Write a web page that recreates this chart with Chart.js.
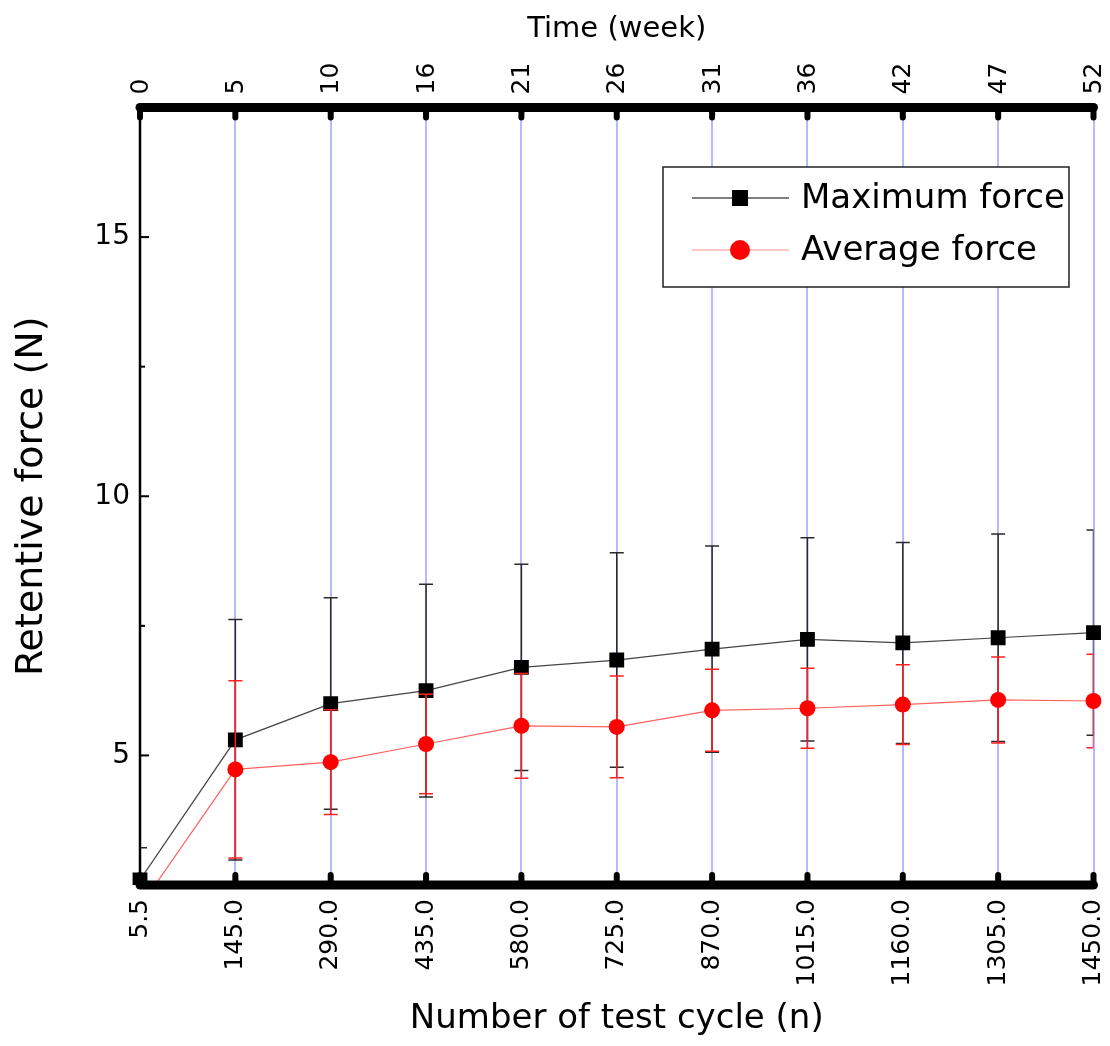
<!DOCTYPE html>
<html>
<head>
<meta charset="utf-8">
<script src="https://cdn.jsdelivr.net/npm/chart.js@4.4.1/dist/chart.umd.min.js"></script>
<style>
  body { margin: 0; background: #fff; }
  #chart { display: block; }
</style>
</head>
<body>
<canvas id="chart" width="1110" height="1046"></canvas>
<script>
const cycleLabels = ['5.5','145.0','290.0','435.0','580.0','725.0','870.0','1015.0','1160.0','1305.0','1450.0'];
const weekLabels = ['0','5','10','16','21','26','31','36','42','47','52'];

const maxForce = [2.6, 5.3, 6.0, 6.25, 6.7, 6.84, 7.05, 7.24, 7.17, 7.27, 7.37];
const maxForceErr = [0.62, 2.32, 2.04, 2.05, 1.99, 2.07, 1.99, 1.96, 1.94, 2.0, 1.98];
const avgForce = [2.08, 4.73, 4.87, 5.22, 5.57, 5.55, 5.87, 5.91, 5.98, 6.07, 6.05];
const avgForceErr = [0, 1.71, 1.01, 0.96, 1.01, 0.98, 0.79, 0.77, 0.77, 0.83, 0.9];

const FONT = '"DejaVu Sans", sans-serif';

// error bars, drawn just before each dataset so markers sit on top
const errorBars = {
  id: 'errorBars',
  beforeDatasetDraw(chart, args) {
    const ds = chart.data.datasets[args.index];
    if (!ds.errors) return;
    const {ctx, chartArea: a} = chart;
    const y = chart.scales.y;
    const meta = args.meta;
    ctx.save();
    ctx.beginPath();
    ctx.rect(a.left, a.top, a.right - a.left, a.bottom - a.top);
    ctx.clip();
    ctx.strokeStyle = ds.errColor;
    ctx.lineWidth = 1.5;
    meta.data.forEach((pt, i) => {
      const e = ds.errors[i];
      if (!e) return;
      const v = ds.data[i];
      const y1 = y.getPixelForValue(v + e);
      const y2 = y.getPixelForValue(v - e);
      ctx.beginPath();
      ctx.moveTo(pt.x, y1); ctx.lineTo(pt.x, y2);
      ctx.moveTo(pt.x - 7, y1); ctx.lineTo(pt.x + 7, y1);
      ctx.moveTo(pt.x - 7, y2); ctx.lineTo(pt.x + 7, y2);
      ctx.stroke();
    });
    ctx.restore();
  }
};

// heavy frame axes with rounded tick stubs, y ticks, top week labels, inset legend
const frame = {
  id: 'frame',
  afterDatasetsDraw(chart) {
    const {ctx, chartArea: a} = chart;
    const x = chart.scales.x, y = chart.scales.y;
    ctx.save();
    ctx.strokeStyle = '#000';
    ctx.lineWidth = 2.5;
    ctx.beginPath();
    ctx.moveTo(a.left, a.top); ctx.lineTo(a.left, a.bottom);
    ctx.stroke();
    ctx.lineWidth = 2;
    [5, 10, 15].forEach(v => {
      const py = y.getPixelForValue(v);
      ctx.beginPath(); ctx.moveTo(a.left, py); ctx.lineTo(a.left + 9, py); ctx.stroke();
    });
    [7.5, 12.5].forEach(v => {
      const py = y.getPixelForValue(v);
      ctx.beginPath(); ctx.moveTo(a.left, py); ctx.lineTo(a.left + 5, py); ctx.stroke();
    });
    ctx.lineCap = 'round';
    ctx.lineWidth = 9;
    [a.top, a.bottom].forEach(py => {
      ctx.beginPath(); ctx.moveTo(a.left, py); ctx.lineTo(a.right, py); ctx.stroke();
    });
    ctx.lineWidth = 6;
    cycleLabels.forEach((_, i) => {
      const px = x.getPixelForValue(i);
      ctx.beginPath(); ctx.moveTo(px, a.top); ctx.lineTo(px, a.top + 10); ctx.stroke();
      ctx.beginPath(); ctx.moveTo(px, a.bottom); ctx.lineTo(px, a.bottom - 10); ctx.stroke();
    });
    // week labels on the top axis, same positions as the cycle categories
    ctx.fillStyle = '#000';
    ctx.font = '25px ' + FONT;
    ctx.textAlign = 'left';
    ctx.textBaseline = 'middle';
    weekLabels.forEach((t, i) => {
      const px = x.getPixelForValue(i);
      ctx.save();
      ctx.translate(px + 1, a.top - 13);
      ctx.rotate(-Math.PI / 2);
      ctx.fillText(t, 0, 0);
      ctx.restore();
    });
    ctx.restore();

    // legend
    const lx = 663, ly = 167, lw = 406, lh = 120;
    ctx.save();
    ctx.fillStyle = '#fff';
    ctx.fillRect(lx, ly, lw, lh);
    ctx.strokeStyle = '#222';
    ctx.lineWidth = 1.5;
    ctx.strokeRect(lx, ly, lw, lh);
    ctx.font = '34px ' + FONT;
    ctx.textBaseline = 'middle';
    chart.data.datasets.slice().sort((p, q) => q.order - p.order).forEach((ds, k) => {
      const ry = ly + 31 + k * 52;
      ctx.strokeStyle = ds.legendLine;
      ctx.lineWidth = 1.5;
      ctx.beginPath(); ctx.moveTo(lx + 29, ry); ctx.lineTo(lx + 126, ry); ctx.stroke();
      ctx.fillStyle = ds.pointBackgroundColor;
      if (ds.pointStyle === 'rect') {
        ctx.fillRect(lx + 69, ry - 8, 16, 16);
      } else {
        ctx.beginPath(); ctx.arc(lx + 77, ry, 10, 0, Math.PI * 2); ctx.fill();
      }
      ctx.fillStyle = '#000';
      ctx.fillText(ds.label, lx + 138, ry + 1);
    });
    ctx.restore();
  }
};

const fixPad = s => { s.paddingLeft = 0; s.paddingRight = 16.5; };

new Chart(document.getElementById('chart'), {
  type: 'line',
  data: {
    labels: cycleLabels,
    datasets: [
      {
        label: 'Maximum force',
        data: maxForce,
        errors: maxForceErr,
        errColor: '#2a2a2a',
        legendLine: '#555',
        borderColor: '#444',
        borderWidth: 1.2,
        pointStyle: 'rect',
        pointRadius: 10.5,
        pointBackgroundColor: '#000',
        pointBorderWidth: 0,
        order: 2
      },
      {
        label: 'Average force',
        data: avgForce,
        errors: avgForceErr,
        errColor: '#ff2020',
        legendLine: '#ffb0b0',
        borderColor: '#ff6060',
        borderWidth: 1.2,
        pointStyle: 'circle',
        pointRadius: 8,
        pointBackgroundColor: '#ff0000',
        pointBorderWidth: 0,
        order: 1
      }
    ]
  },
  options: {
    responsive: false,
    animation: false,
    devicePixelRatio: 1,
    layout: { padding: 0 },
    plugins: { legend: { display: false }, tooltip: { enabled: false } },
    scales: {
      x: {
        type: 'category',
        position: 'bottom',
        grid: { color: '#b8b8ff', lineWidth: 2, drawTicks: false },
        border: { display: false },
        ticks: { minRotation: 90, maxRotation: 90, autoSkip: false, padding: 14, color: '#000', font: { family: FONT, size: 25 } },
        title: { display: true, text: 'Number of test cycle (n)', color: '#000', font: { family: FONT, size: 34 }, padding: { top: 0, bottom: 6 } },
        afterFit: s => { s.height = 161; fixPad(s); }
      },
      x2: {
        type: 'category',
        position: 'top',
        labels: weekLabels,
        grid: { display: false, drawTicks: false },
        border: { display: false },
        ticks: { display: false },
        title: { display: true, text: 'Time (week)', color: '#000', font: { family: FONT, size: 29 }, padding: { top: 12, bottom: 0 } },
        afterFit: s => { s.height = 107.5; fixPad(s); }
      },
      y: {
        type: 'linear',
        min: 2.5,
        max: 17.5,
        afterBuildTicks: s => { s.ticks = [5, 10, 15].map(v => ({ value: v })); },
        grid: { display: false, drawTicks: false },
        border: { display: false },
        ticks: { padding: 10, color: '#000', font: { family: FONT, size: 28 } },
        title: { display: true, text: 'Retentive force (N)', color: '#000', font: { family: FONT, size: 38 }, padding: { top: 9, bottom: 0 } },
        afterFit: s => { s.width = 140; }
      }
    }
  },
  plugins: [errorBars, frame]
});
</script>
</body>
</html>
